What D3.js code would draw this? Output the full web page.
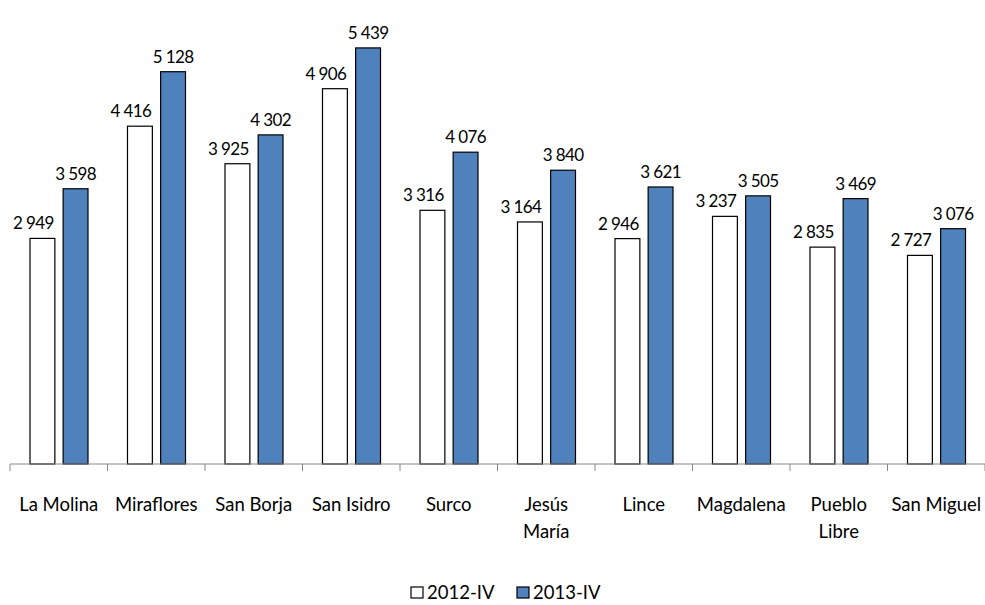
<!DOCTYPE html>
<html>
<head>
<meta charset="utf-8">
<script src="https://cdn.jsdelivr.net/npm/d3@7"></script>
<style>
  body { margin: 0; background: #fff; }
  text { font-family: Lato, "Liberation Sans", sans-serif; fill: #000; }
</style>
</head>
<body>
<svg width="985" height="605"></svg>
<script>
var categories = ["La Molina", "Miraflores", "San Borja", "San Isidro", "Surco", "Jesús María", "Lince", "Magdalena", "Pueblo Libre", "San Miguel"];
var labelLines = [["La Molina"], ["Miraflores"], ["San Borja"], ["San Isidro"], ["Surco"], ["Jesús", "María"], ["Lince"], ["Magdalena"], ["Pueblo", "Libre"], ["San Miguel"]];
var series = ["2012-IV", "2013-IV"];
var values2012 = [2949, 4416, 3925, 4906, 3316, 3164, 2946, 3237, 2835, 2727];
var values2013 = [3598, 5128, 4302, 5439, 4076, 3840, 3621, 3505, 3469, 3076];
var colors = ["#ffffff", "#4f81bd"];

var svg = d3.select("svg"),
    plotLeft = 10, plotRight = 985, plotBase = 464, plotTop = 5;

var x = d3.scaleBand().domain(categories).range([plotLeft, plotRight]);
var x1 = d3.scaleBand().domain(series).range([20, 78]).paddingInner(0.25);
var y = d3.scaleLinear().domain([0, 6000]).range([plotBase, plotTop]);

var locale = d3.formatLocale({decimal: ",", thousands: " ", grouping: [3], currency: ["", ""]});
var fmt = locale.format(",d");

// the 2012 labels sit a little left of their bar, as in the original
var labelShift = [-9, 0];

var data = categories.map(function(c, i) {
    return {cat: c, vals: [values2012[i], values2013[i]]};
});

var groups = svg.selectAll(".cat")
    .data(data).enter().append("g")
    .attr("class", "cat")
    .attr("transform", function(d) { return "translate(" + x(d.cat) + ",0)"; });

groups.selectAll("rect")
    .data(function(d) { return d.vals.map(function(v, j) { return {s: series[j], v: v, j: j}; }); })
    .enter().append("rect")
    .attr("x", function(d) { return x1(d.s); })
    .attr("y", function(d) { return y(d.v); })
    .attr("width", x1.bandwidth())
    .attr("height", function(d) { return plotBase - y(d.v); })
    .attr("fill", function(d) { return colors[d.j]; })
    .attr("stroke", "#000")
    .attr("stroke-width", 1.2);

groups.selectAll(".val")
    .data(function(d) { return d.vals.map(function(v, j) { return {s: series[j], v: v, j: j}; }); })
    .enter().append("text")
    .attr("class", "val")
    .attr("x", function(d) { return x1(d.s) + x1.bandwidth() / 2 + labelShift[d.j]; })
    .attr("y", function(d) { return y(d.v) - 9; })
    .attr("text-anchor", "middle")
    .style("font-size", "17px")
    .style("letter-spacing", "-0.6px")
    .text(function(d) { return fmt(d.v); });

// axis
var xAxis = d3.axisBottom(x).tickSize(0).tickFormat("");
var ax = svg.append("g").attr("transform", "translate(0," + plotBase + ")").call(xAxis);
ax.select(".domain").attr("stroke", "#888").attr("d", "M" + plotLeft + ",0H" + plotRight);
ax.selectAll(".bound")
    .data(categories.concat(["end"])).enter().append("line")
    .attr("x1", function(d, i) { return plotLeft + i * x.step(); })
    .attr("x2", function(d, i) { return plotLeft + i * x.step(); })
    .attr("y1", 0).attr("y2", 7)
    .attr("stroke", "#888");

labelLines.forEach(function(lines, i) {
    var cx = x(categories[i]) + x.bandwidth() / 2;
    var t = svg.append("text")
        .attr("x", cx)
        .attr("y", 511)
        .attr("text-anchor", "middle")
        .style("font-size", "18.5px");
    lines.forEach(function(l, k) {
        t.append("tspan").attr("x", cx)
            .attr("dy", k === 0 ? 0 : 27).text(l);
    });
});

// legend
var legendX = [411, 517];
series.forEach(function(s, i) {
    var g = svg.append("g").attr("transform", "translate(" + legendX[i] + ",587)");
    g.append("rect").attr("width", 12).attr("height", 11)
        .attr("fill", colors[i]).attr("stroke", "#000").attr("stroke-width", 1.2);
    g.append("text").attr("x", 16).attr("y", 12).style("font-size", "18.5px").text(s);
});
</script>
</body>
</html>
